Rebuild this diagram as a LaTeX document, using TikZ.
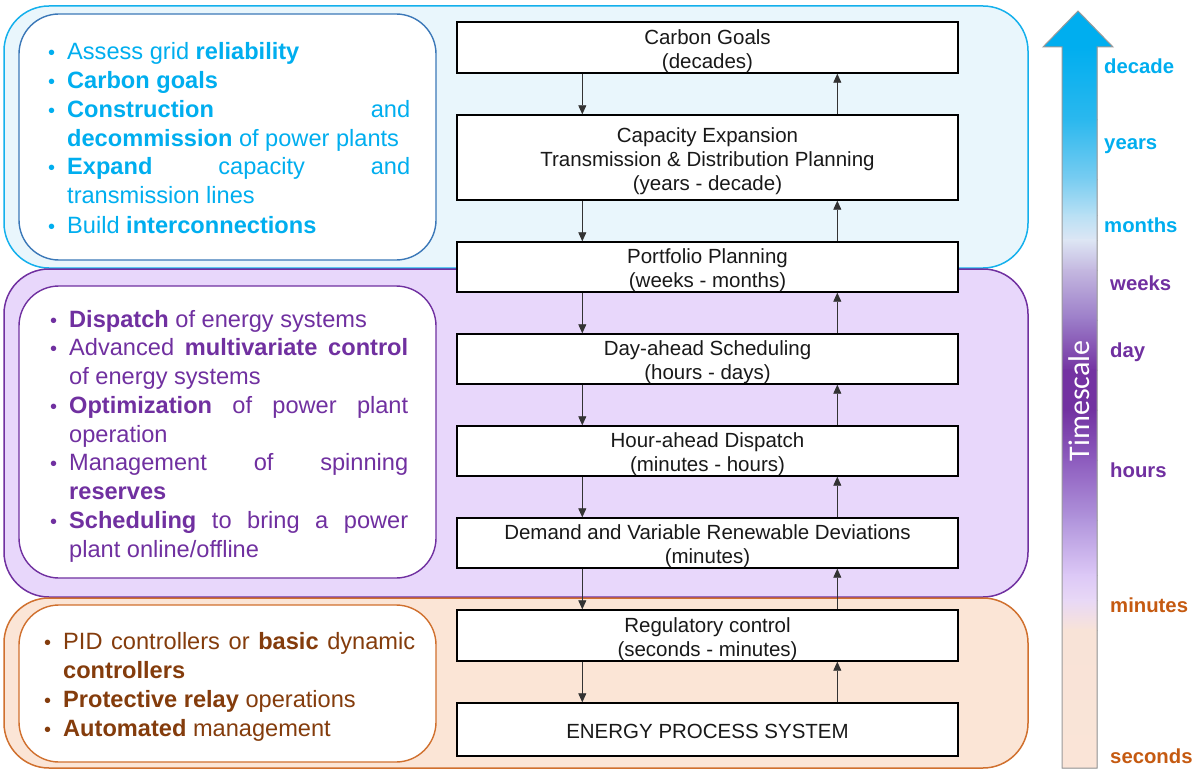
\documentclass[tikz,border=0pt]{standalone}
\usepackage{fontspec}
\setmainfont{Liberation Sans}
\newfontfamily\tsfont{Carlito}
\usetikzlibrary{arrows.meta}

\definecolor{bluefill}{HTML}{E9F6FC}
\definecolor{blueline}{HTML}{14B0EC}
\definecolor{blueinner}{HTML}{3B78B8}
\definecolor{bluetext}{HTML}{00AEEF}
\definecolor{purplefill}{HTML}{E8D7FB}
\definecolor{purpleline}{HTML}{7030A0}
\definecolor{purpletext}{HTML}{7030A0}
\definecolor{orangefill}{HTML}{FBE5D6}
\definecolor{orangeline}{HTML}{D0702E}
\definecolor{orangetext}{HTML}{843C0C}
\definecolor{orangelabel}{HTML}{C55A11}
\definecolor{arrowedge}{HTML}{9A9A9A}

% bullet placed to the left of an item's first line
\newcommand\bul{\llap{\raisebox{0pt}{\fontsize{20}{20}\selectfont\textbullet}\hspace{12pt}}}
% taller first line, sets the text of a layer box a little lower
\newcommand\fl{\rule{0pt}{21.5pt}}

\begin{document}
\begin{tikzpicture}[x=1pt,y=-1pt,
  panel/.style={line width=1.5pt, rounded corners=45pt},
  innerbox/.style={fill=white, line width=1.4pt, rounded corners=40pt},
  cbox/.style={draw=black, fill=white, line width=1.4pt, minimum width=501pt,
    align=center, inner sep=0pt, text=black!90, font=\fontsize{20.5}{24}\selectfont},
  flow/.style={draw=black!80, line width=0.8pt, -{Triangle[length=9pt,width=8pt]}},
  itemtxt/.style={anchor=base west, inner sep=0pt, font=\fontsize{23.6}{29}\selectfont},
  tslabel/.style={anchor=base west, inner sep=0pt, font=\bfseries\fontsize{20.3}{24}\selectfont}]
\useasboundingbox (0,0) rectangle (1198,770);

% ---- background bands ----
\draw[panel, draw=blueline, fill=bluefill] (4,6) rectangle (1028,268);
\draw[panel, draw=purpleline, fill=purplefill] (4,269) rectangle (1028,597);
\draw[panel, draw=orangeline, fill=orangefill] (4,598) rectangle (1028,768);

% ---- description boxes ----
\draw[innerbox, draw=blueinner] (19,14) rectangle (436,260);
\draw[innerbox, draw=purpleline] (19,286) rectangle (436,578);
\draw[innerbox, draw=orangeline] (19,605) rectangle (436,762);

% long-term planning items
\begin{scope}[every node/.style={itemtxt, text=bluetext}]
\node (b1) at (67,60) {\bul Assess grid \textbf{reliability}};
\node (b2) at (67,89) {\bul\textbf{Carbon goals}};
\node (b3) at (67,118) {\bul\makebox[343pt][s]{\textbf{Construction} and}};
\node (b4) at (67,147) {\textbf{decommission} of power plants};
\node (b5) at (67,175) {\bul\makebox[343pt][s]{\textbf{Expand} capacity and}};
\node (b6) at (67,204) {transmission lines};
\node (b7) at (67,233) {\bul Build \textbf{interconnections}};
\end{scope}

% operational items
\begin{scope}[every node/.style={itemtxt, text=purpletext}]
\node (p1) at (69,327) {\bul\textbf{Dispatch} of energy systems};
\node (p2) at (69,355.75) {\bul\makebox[339pt][s]{Advanced \textbf{multivariate control}}};
\node (p3) at (69,384.5) {of energy systems};
\node (p4) at (69,413.25) {\bul\makebox[339pt][s]{\textbf{Optimization} of power plant}};
\node (p5) at (69,442) {operation};
\node (p6) at (69,470.75) {\bul\makebox[339pt][s]{Management of spinning}};
\node (p7) at (69,499.5) {\textbf{reserves}};
\node (p8) at (69,528.25) {\bul\makebox[339pt][s]{\textbf{Scheduling} to bring a power}};
\node (p9) at (69,557) {plant online/offline};
\end{scope}

% control items
\begin{scope}[every node/.style={itemtxt, text=orangetext}]
\node (o1) at (63,649) {\bul\makebox[352pt][s]{PID controllers or \textbf{basic} dynamic}};
\node (o2) at (63,678) {\textbf{controllers}};
\node (o3) at (63,707) {\bul\textbf{Protective relay} operations};
\node (o4) at (63,736) {\bul\textbf{Automated} management};
\end{scope}

% ---- hierarchy of decision layers ----
\node[cbox, minimum height=51pt] (cg) at (707.5,47.5) {\fl Carbon Goals\\(decades)};
\node[cbox, minimum height=85pt] (ce) at (707.5,157.5) {\fl Capacity Expansion\\Transmission \& Distribution Planning\\(years - decade)};
\node[cbox, minimum height=50pt] (pp) at (707.5,267) {\fl Portfolio Planning\\(weeks - months)};
\node[cbox, minimum height=50pt] (da) at (707.5,359) {\fl Day-ahead Scheduling\\(hours - days)};
\node[cbox, minimum height=50pt] (ha) at (707.5,451) {\fl Hour-ahead Dispatch\\(minutes - hours)};
\node[cbox, minimum height=50pt] (dv) at (707.5,543) {\fl Demand and Variable Renewable Deviations\\(minutes)};
\node[cbox, minimum height=51pt] (rc) at (707.5,635.5) {\fl Regulatory control\\(seconds - minutes)};
\node[cbox, minimum height=53pt] (ep) at (707.5,729.5) {\rule{0pt}{18pt}ENERGY PROCESS SYSTEM};

% downward set-points and upward feedback
\foreach \u/\l in {cg/ce, ce/pp, pp/da, da/ha, ha/dv, dv/rc, rc/ep}{
  \draw[flow] ([xshift=126pt]\u.south west) -- ([xshift=126pt]\l.north west);
  \draw[flow] ([xshift=381pt]\l.north west) -- ([xshift=381pt]\u.south west);
}

% ---- timescale arrow ----
\begin{scope}
\clip (1062,768) -- (1062,47) -- (1043,47) -- (1078,11) -- (1113,47) -- (1097,47) -- (1097,768) -- cycle;
\fill[bluetext] (1040,8) rectangle (1116,48);
\foreach \ya/\yb/\ca/\cb in {
   47/120/00AEEF/2BB8EE,
  120/180/2BB8EE/7ACDF1,
  180/215/7ACDF1/B8E0F4,
  215/240/B8E0F4/DDE6F4,
  240/270/DDE6F4/C4B8E0,
  270/320/C4B8E0/9B7CC8,
  320/370/9B7CC8/7433A2,
  370/410/7433A2/7232A1,
  410/460/7232A1/8D5CBE,
  460/520/8D5CBE/B195DC,
  520/575/B195DC/DCC8F6,
  575/600/DCC8F6/E8D8F6,
  600/630/E8D8F6/F8E3D7,
  630/769/F8E3D7/FAE4D7}{
  \definecolor{ctop}{HTML}{\ca}
  \definecolor{cbot}{HTML}{\cb}
  \fill[top color=ctop, bottom color=cbot] (1040,\ya-0.5) rectangle (1116,\yb+0.5);
}
\end{scope}
\draw[arrowedge, line width=1pt, line join=miter] (1062,768) -- (1062,47) -- (1043,47) -- (1078,11) -- (1113,47) -- (1097,47) -- (1097,768) -- cycle;
\node[rotate=90, text=white, inner sep=0pt, font=\tsfont\fontsize{30}{30}\selectfont] (tsl) at (1079,401) {Timescale};

\node[tslabel, text=bluetext] (t1) at (1104,74) {decade};
\node[tslabel, text=bluetext] (t2) at (1104,150) {years};
\node[tslabel, text=bluetext] (t3) at (1104,232) {months};
\node[tslabel, text=purpletext] (t4) at (1110,290) {weeks};
\node[tslabel, text=purpletext] (t5) at (1110,357) {day};
\node[tslabel, text=purpletext] (t6) at (1110,477) {hours};
\node[tslabel, text=orangelabel] (t7) at (1110,612) {minutes};
\node[tslabel, text=orangelabel] (t8) at (1110,763) {seconds};
\end{tikzpicture}
\end{document}
